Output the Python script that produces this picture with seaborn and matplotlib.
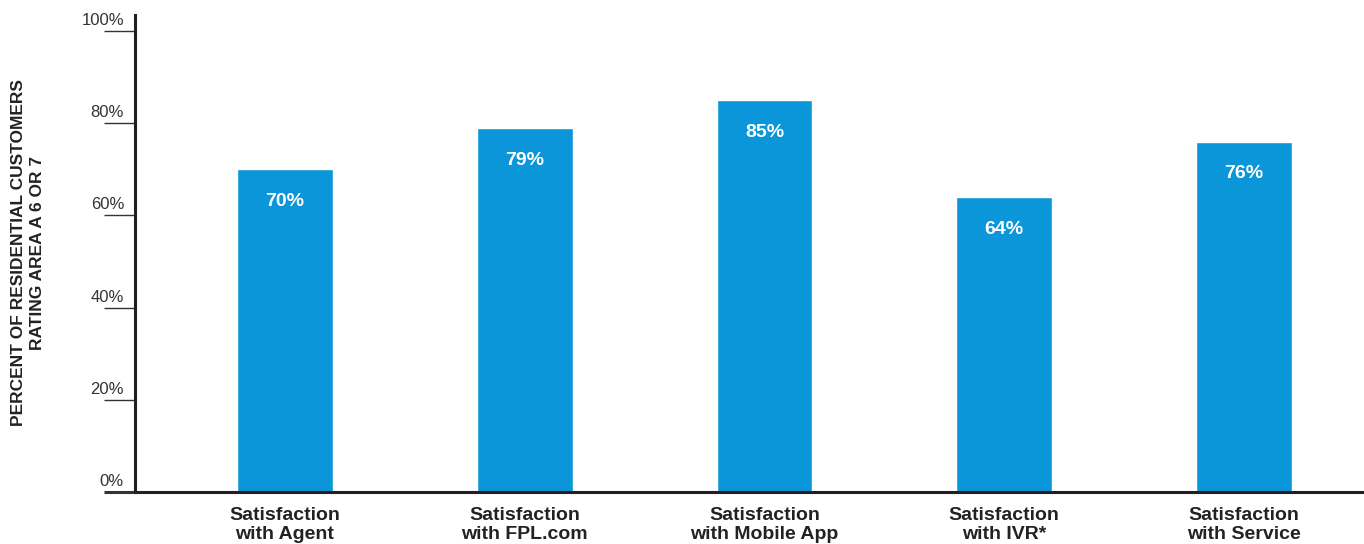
import matplotlib
matplotlib.use("Agg")
import matplotlib.pyplot as plt
import matplotlib.transforms as mtransforms
import seaborn as sns
import pandas as pd

categories = ["Satisfaction\nwith Agent", "Satisfaction\nwith FPL.com", "Satisfaction\nwith Mobile App",
              "Satisfaction\nwith IVR*", "Satisfaction\nwith Service"]
values = [70, 79, 85, 64, 76]
yticks = [0, 20, 40, 60, 80, 100]
ytick_labels = ["0%", "20%", "40%", "60%", "80%", "100%"]
ylabel = "PERCENT OF RESIDENTIAL CUSTOMERS\nRATING AREA A 6 OR 7"

BAR = "#0A96D8"
DARK = "#231f20"

sns.set_theme(style="white")
plt.rcParams["font.family"] = ["Liberation Sans", "DejaVu Sans"]

fig = plt.figure(figsize=(13.64, 5.44), dpi=100)
W, H = 1364, 544
ax = fig.add_axes([135 / W, (H - 492) / H, 1 - 135 / W, (492 - 15) / H])

df = pd.DataFrame({"cat": categories, "val": values})
sns.barplot(data=df, x="cat", y="val", color=BAR, saturation=1, width=0.4, ax=ax)

ax.set_xlim(-0.625, 4.5)
ax.set_ylim(0, 103.5)

for s in ["top", "right"]:
    ax.spines[s].set_visible(False)
for s in ["left", "bottom"]:
    ax.spines[s].set_color(DARK)
    ax.spines[s].set_linewidth(2.2)
    ax.spines[s].set_zorder(5)

ax.set_yticks(yticks)
ax.set_yticklabels([])
ax.tick_params(axis="y", direction="out", length=22.5, width=1.0, color="#333333", left=True)
ticks = ax.yaxis.get_major_ticks()
ticks[0].tick1line.set_markeredgewidth(2.2)
ticks[0].tick1line.set_color(DARK)

offset = mtransforms.ScaledTranslation(-11 / 100, 3 / 100, fig.dpi_scale_trans)
trans = mtransforms.blended_transform_factory(ax.transAxes, ax.transData) + offset
for t, lab in zip(yticks, ytick_labels):
    ax.text(0, t, lab, transform=trans, ha="right", va="bottom", fontsize=12, color="#333333")

ax.tick_params(axis="x", length=0, pad=11)
ax.set_xticks(range(len(categories)))
ax.set_xticklabels(categories, fontsize=14, fontweight="bold", color="#222222", linespacing=1.15)
ax.set_xlabel("")
ax.set_ylabel("")

for i, v in enumerate(values):
    ax.text(i, v - 7, f"{v}%", ha="center", va="center", color="white", fontsize=14, fontweight="bold")

fig.text(28 / W, 1 - 253 / H, ylabel, rotation=90, ha="center", va="center", fontsize=12.5,
         fontweight="bold", color="#222222", linespacing=1.3)

fig.savefig("out.png", dpi=100)
